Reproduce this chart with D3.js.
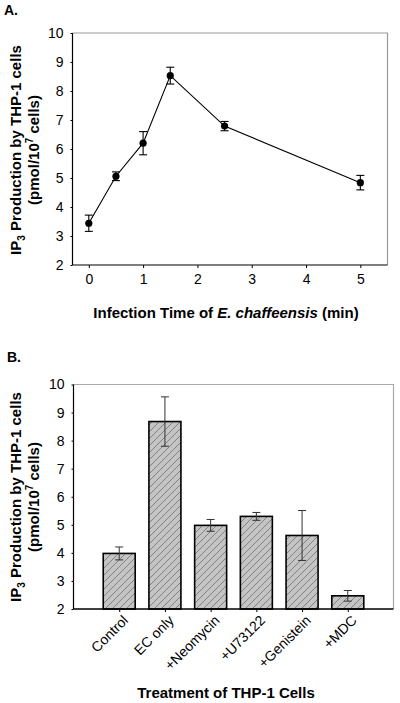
<!DOCTYPE html>
<html><head><meta charset="utf-8">
<script src="https://cdn.jsdelivr.net/npm/d3@7"></script>
<style>body{margin:0;background:#fff}svg{display:block;font-family:Arial,"Liberation Sans",sans-serif}</style>
</head><body><svg id="c" width="400" height="703"></svg>
<script>
// Panel A data
const timesA = [0, 0.5, 1, 1.5, 2.5, 5];
const valuesA = [3.44, 5.06, 6.2, 8.53, 6.79, 4.84];
const errA = [0.28, 0.15, 0.4, 0.29, 0.16, 0.25];
const xTicksA = [0, 1, 2, 3, 4, 5];
const yTicks = [2, 3, 4, 5, 6, 7, 8, 9, 10];
// Panel B data
const categoriesB = ["Control", "EC only", "+Neomycin", "+U73122", "+Genistein", "+MDC"];
const valuesB = [3.98, 8.68, 4.98, 5.3, 4.62, 2.47];
const errB = [0.23, 0.88, 0.21, 0.14, 0.89, 0.19];

const FS = 14;      // tick label size
const TFS = 15;     // title size

const svg = d3.select("#c");
const defs = svg.append("defs");
const pat = defs.append("pattern").attr("id","hatch").attr("patternUnits","userSpaceOnUse")
  .attr("width",7).attr("height",7);
pat.append("rect").attr("width",7).attr("height",7).attr("fill","#c4c4c4");
pat.append("path").attr("d","M-1,8 L8,-1 M-1,1 L1,-1 M6,8 L8,6").attr("stroke","#7a7a7a").attr("stroke-width",0.9);

function yTitle(g, cy){
  const t = g.append("text").attr("transform",`translate(21,${cy}) rotate(-90)`)
    .attr("text-anchor","middle").attr("font-weight","bold").attr("font-size",TFS);
  t.append("tspan").text("IP");
  t.append("tspan").attr("font-size",10).attr("dy",4).text("3");
  t.append("tspan").attr("dy",-4).text(" Production by THP-1 cells");
  const t2 = g.append("text").attr("transform",`translate(39,${cy}) rotate(-90)`)
    .attr("text-anchor","middle").attr("font-weight","bold").attr("font-size",TFS);
  t2.append("tspan").text("(pmol/10");
  t2.append("tspan").attr("font-size",10).attr("dy",-6).text("7");
  t2.append("tspan").attr("dy",6).text(" cells)");
}

// ---------- Panel A ----------
{
  const L=72.5, R=387.5, T=33, B=265;
  const x = d3.scaleLinear().domain([-0.3, 5.5]).range([L, R]);
  const y = d3.scaleLinear().domain([2, 10]).range([B, T]);
  svg.append("text").attr("x",4).attr("y",15).attr("font-weight","bold").attr("font-size",14).text("A.");
  svg.append("path").attr("d",`M${L},${T}H${R}V${B}`).attr("fill","none").attr("stroke","#999").attr("stroke-width",1.2);
  svg.append("line").attr("x1",L).attr("x2",L).attr("y1",T).attr("y2",B).attr("stroke","#000").attr("stroke-width",1.2);
  svg.append("line").attr("x1",L).attr("x2",R).attr("y1",B).attr("y2",B).attr("stroke","#000").attr("stroke-width",1.2);
  const gx = svg.append("g").attr("transform",`translate(0,${B})`)
    .call(d3.axisBottom(x).tickValues(xTicksA).tickSize(3).tickPadding(6).tickFormat(d3.format("d")));
  gx.select(".domain").remove();
  gx.selectAll("text").attr("font-size",FS).attr("font-family","Arial").attr("fill","#000");
  const gy = svg.append("g").attr("transform",`translate(${L},0)`)
    .call(d3.axisLeft(y).tickValues(yTicks).tickSize(2).tickPadding(7).tickFormat(d3.format("d")));
  gy.select(".domain").remove();
  gy.selectAll("text").attr("font-size",FS).attr("font-family","Arial").attr("fill","#000");
  const line = d3.line().x((d,i)=>x(timesA[i])).y(d=>y(d));
  svg.append("path").datum(valuesA).attr("d",line).attr("fill","none").attr("stroke","#000").attr("stroke-width",1.1);
  const eb = svg.append("g").attr("stroke","#000").attr("stroke-width",1.1);
  valuesA.forEach((v,i)=>{
    const cx=x(timesA[i]), y1=y(v+errA[i]), y2=y(v-errA[i]);
    eb.append("line").attr("x1",cx).attr("x2",cx).attr("y1",y1).attr("y2",y2);
    eb.append("line").attr("x1",cx-4).attr("x2",cx+4).attr("y1",y1).attr("y2",y1);
    eb.append("line").attr("x1",cx-4).attr("x2",cx+4).attr("y1",y2).attr("y2",y2);
  });
  svg.append("g").selectAll("circle").data(valuesA).join("circle")
    .attr("cx",(d,i)=>x(timesA[i])).attr("cy",d=>y(d)).attr("r",3.6).attr("fill","#000");
  const xt = svg.append("text").attr("x",226).attr("y",318).attr("text-anchor","middle").attr("font-weight","bold").attr("font-size",TFS);
  xt.append("tspan").text("Infection Time of ");
  xt.append("tspan").attr("font-style","italic").text("E. chaffeensis");
  xt.append("tspan").text(" (min)");
  yTitle(svg, 150);
}

// ---------- Panel B ----------
{
  const L=73.5, R=393.5, T=384.5, B=609;
  const x = d3.scaleLinear().domain([0, 7]).range([L, R]);
  const y = d3.scaleLinear().domain([2, 10]).range([B, T]);
  const bw = 32;
  svg.append("text").attr("x",7).attr("y",362).attr("font-weight","bold").attr("font-size",14).text("B.");
  svg.append("path").attr("d",`M${L},${T}H${R}V${B}`).attr("fill","none").attr("stroke","#aaa").attr("stroke-width",1.2);
  svg.append("line").attr("x1",L).attr("x2",L).attr("y1",T).attr("y2",B).attr("stroke","#000").attr("stroke-width",1.2);
  svg.append("g").selectAll("rect").data(valuesB).join("rect")
    .attr("x",(d,i)=>x(i+1)-bw/2).attr("width",bw)
    .attr("y",d=>y(d)).attr("height",d=>B-y(d))
    .attr("fill","url(#hatch)").attr("stroke","#000").attr("stroke-width",1.6);
  svg.append("line").attr("x1",L).attr("x2",R).attr("y1",B).attr("y2",B).attr("stroke","#000").attr("stroke-width",1.3);
  const gx = svg.append("g").attr("transform",`translate(0,${B})`)
    .call(d3.axisBottom(x).tickValues(d3.range(1,7)).tickSize(3).tickFormat(i=>categoriesB[i-1]));
  gx.select(".domain").remove();
  gx.selectAll("text").attr("font-size",FS).attr("font-family","Arial").attr("fill","#000")
    .attr("text-anchor","end").attr("dy",0).attr("transform","translate(5,8) rotate(-45)");
  const gy = svg.append("g").attr("transform",`translate(${L},0)`)
    .call(d3.axisLeft(y).tickValues(yTicks).tickSize(2).tickPadding(7).tickFormat(d3.format("d")));
  gy.select(".domain").remove();
  gy.selectAll("text").attr("font-size",FS).attr("font-family","Arial").attr("fill","#000");
  const eb = svg.append("g").attr("stroke","#333").attr("stroke-width",1);
  valuesB.forEach((v,i)=>{
    const cx=x(i+1), y1=y(v+errB[i]), y2=y(v-errB[i]);
    eb.append("line").attr("x1",cx).attr("x2",cx).attr("y1",y1).attr("y2",y2);
    eb.append("line").attr("x1",cx-4).attr("x2",cx+4).attr("y1",y1).attr("y2",y1);
    eb.append("line").attr("x1",cx-4).attr("x2",cx+4).attr("y1",y2).attr("y2",y2);
  });
  svg.append("text").attr("x",226).attr("y",698).attr("text-anchor","middle").attr("font-weight","bold").attr("font-size",TFS).text("Treatment of THP-1 Cells");
  yTitle(svg, 497);
}
</script></body></html>
